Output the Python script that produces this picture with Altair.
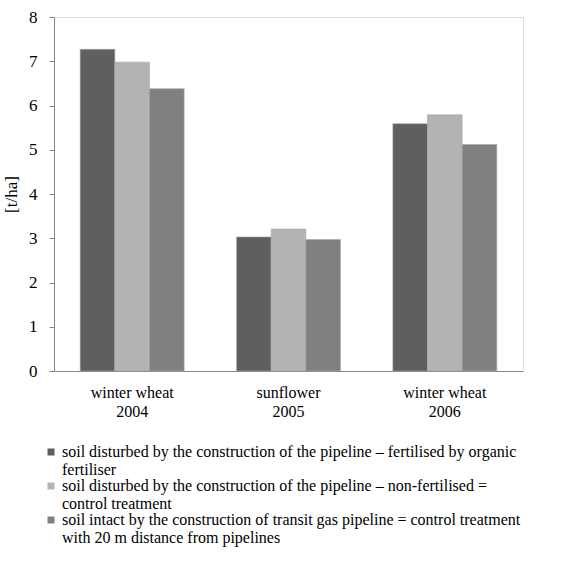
import altair as alt
import pandas as pd

crops = ["winter wheat|2004", "sunflower|2005", "winter wheat|2006"]
series = [
    "soil disturbed by the construction of the pipeline – fertilised by organic|fertiliser",
    "soil disturbed by the construction of the pipeline – non-fertilised =|control treatment",
    "soil intact by the construction of transit gas pipeline  = control treatment|with 20 m distance from pipelines",
]
fertilised = [7.27, 3.03, 5.59]
non_fertilised = [6.98, 3.21, 5.79]
intact = [6.38, 2.97, 5.12]
colors = ["#5f5f5f", "#b3b3b3", "#808080"]

rows = []
for vals, s in zip([fertilised, non_fertilised, intact], series):
    for c, v in zip(crops, vals):
        rows.append({"crop": c, "series": s, "value": v})
df = pd.DataFrame(rows)

FONT = "Liberation Serif, Times New Roman, serif"

chart = alt.Chart(df).mark_bar(stroke="#a8a8a8", strokeWidth=0.6).encode(
    x=alt.X("crop:N", sort=crops,
            scale=alt.Scale(paddingInner=0.335, paddingOuter=0.1675),
            axis=alt.Axis(title=None, labelAngle=0, ticks=False, domainColor="#868686",
                          labelExpr="split(datum.label, '|')", labelPadding=13,
                          labelFontSize=16, labelLineHeight=19, labelColor="#000",
                          labelFont=FONT)),
    xOffset=alt.XOffset("series:N", sort=series, scale=alt.Scale(paddingInner=0, paddingOuter=0)),
    y=alt.Y("value:Q", scale=alt.Scale(domain=[0, 8], nice=False),
            axis=alt.Axis(title="[t/ha]", values=list(range(0, 9)), grid=False, tickSize=5,
                          tickColor="#868686", domainColor="#868686", labelPadding=12,
                          labelFontSize=17, labelColor="#000", labelFont=FONT,
                          titleFont=FONT, titleFontSize=17, titleFontWeight="normal",
                          titleColor="#000", titlePadding=8)),
    color=alt.Color("series:N", sort=series,
                    scale=alt.Scale(domain=series, range=colors),
                    legend=alt.Legend(title=None, orient="none", legendX=-11, legendY=427,
                                      labelExpr="split(datum.label, '|')",
                                      labelFont=FONT, labelFontSize=16, labelColor="#000",
                                      labelLimit=700,
                                      symbolType="square", symbolSize=49, symbolStrokeWidth=0,
                                      rowPadding=0, labelOffset=3)),
).properties(
    width=469, height=354,
    autosize=alt.AutoSizeParams(type="none"),
    padding={"left": 54, "top": 17, "right": 46, "bottom": 199},
).configure_view(stroke=None).configure(
    background="white", font=FONT,
    style={"guide-label": {"font": FONT, "lineHeight": 18}},
)

chart.save("out.html", embed_options={"renderer": "svg", "actions": False})
